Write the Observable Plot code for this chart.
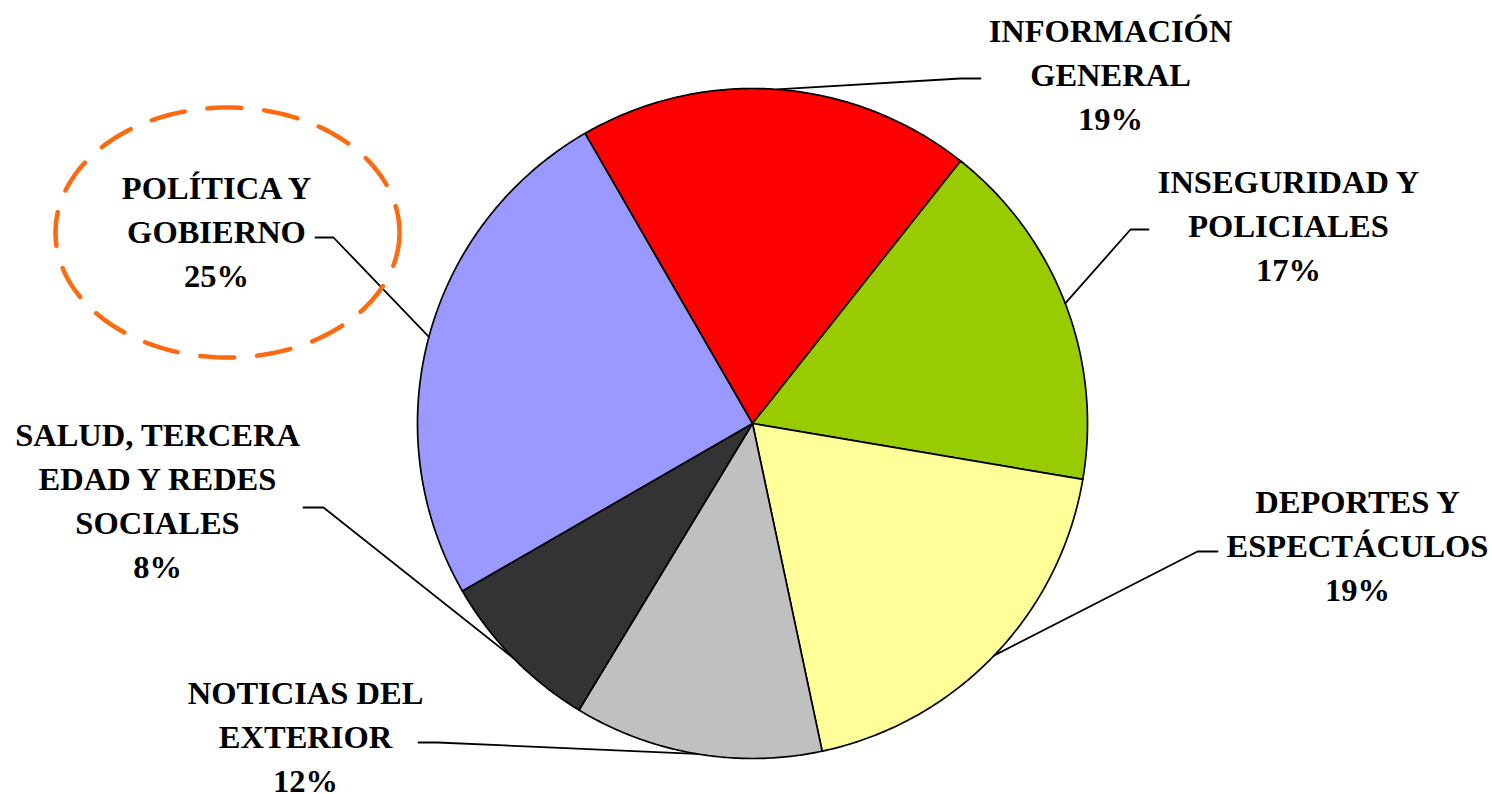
<!DOCTYPE html>
<html>
<head>
<meta charset="utf-8">
<script src="https://cdn.jsdelivr.net/npm/d3@7"></script>
<script src="https://cdn.jsdelivr.net/npm/@observablehq/plot@0.6"></script>
<style>
  html, body { margin: 0; padding: 0; background: #fff; }
  #chart svg { display: block; }
</style>
</head>
<body>
<div id="chart"></div>
<script>
// ---- data ----
const categories = [
  "INFORMACIÓN GENERAL",
  "INSEGURIDAD Y POLICIALES",
  "DEPORTES Y ESPECTÁCULOS",
  "NOTICIAS DEL EXTERIOR",
  "SALUD, TERCERA EDAD Y REDES SOCIALES",
  "POLÍTICA Y GOBIERNO"
];
const values = [19, 17, 19, 12, 8, 25];
const labelLines = [
  ["INFORMACIÓN", "GENERAL"],
  ["INSEGURIDAD Y", "POLICIALES"],
  ["DEPORTES Y", "ESPECTÁCULOS"],
  ["NOTICIAS DEL", "EXTERIOR"],
  ["SALUD, TERCERA", "EDAD Y REDES", "SOCIALES"],
  ["POLÍTICA Y", "GOBIERNO"]
];
const sliceColors = ["#FF0000", "#99CC00", "#FFFF99", "#C0C0C0", "#333333", "#9999FF"];

// ---- layout ----
const W = 1492, H = 794;
const cx = 752, cy = 423, R = 335, startAngle = -30; // degrees, clockwise from north
const lineStep = 44;
const labelPos = [[1110, 41], [1288, 192], [1357, 512], [305, 703], [157, 445], [216, 198]];
const leaderElbows = [
  [[960, 78], [980, 78]],
  [[1130, 229], [1148, 229]],
  [[1197, 551], [1217, 551]],
  [[437, 742], [418, 742]],
  [[323, 507], [303, 507]],
  [[333, 237], [315, 237]]
];
const highlight = {cx: 227, cy: 232, rx: 172, ry: 125};

const pt = (deg, r) => {
  const a = deg * Math.PI / 180;
  return [cx + r * Math.sin(a), cy - r * Math.cos(a)];
};

const total = d3.sum(values);
let acc = startAngle;
const slices = values.map((v, i) => {
  const a0 = acc, a1 = acc + v / total * 360;
  acc = a1;
  return {key: categories[i], value: v, a0, a1, mid: (a0 + a1) / 2, i};
});

const slicePts = [];
for (const s of slices) {
  slicePts.push({key: s.key, x: cx, y: cy});
  const n = Math.max(2, Math.ceil((s.a1 - s.a0) * 2));
  for (let k = 0; k <= n; k++) {
    const [x, y] = pt(s.a0 + (s.a1 - s.a0) * k / n, R);
    slicePts.push({key: s.key, x, y});
  }
  slicePts.push({key: s.key, x: cx, y: cy});
}

const leaderPts = [];
for (const s of slices) {
  const [x, y] = pt(s.mid, R);
  leaderPts.push({key: s.key, x, y});
  for (const [ex, ey] of leaderElbows[s.i]) leaderPts.push({key: s.key, x: ex, y: ey});
}

const textRows = [];
slices.forEach(s => {
  const lines = [...labelLines[s.i], `${s.value}%`];
  const [lx, ly] = labelPos[s.i];
  lines.forEach((t, j) => textRows.push({x: lx, y: ly + j * lineStep, text: t}));
});

const ellipsePts = d3.range(0, 360, 2).map(d => {
  const a = d * Math.PI / 180;
  return {x: highlight.cx + highlight.rx * Math.cos(a), y: highlight.cy + highlight.ry * Math.sin(a)};
});

const chart = Plot.plot({
  width: W,
  height: H,
  margin: 0,
  x: {domain: [0, W], range: [0, W], axis: null},
  y: {domain: [0, H], range: [0, H], axis: null},
  color: {type: "ordinal", domain: categories, range: sliceColors},
  style: {background: "#fff"},
  marks: [
    Plot.line(slicePts, {x: "x", y: "y", z: "key", fill: "key", stroke: "#000", strokeWidth: 1.7, strokeLinejoin: "round", curve: "linear"}),
    Plot.line(leaderPts, {x: "x", y: "y", z: "key", stroke: "#000", strokeWidth: 1.8, curve: "linear"}),
    Plot.line(ellipsePts, {x: "x", y: "y", curve: "linear-closed", stroke: "#FF6A10", strokeWidth: 4.5, strokeDasharray: "34,23"}),
    Plot.text(textRows, {x: "x", y: "y", text: "text", lineAnchor: "bottom", fontSize: 32.5, fontWeight: "bold", fontFamily: "'Liberation Serif', 'Times New Roman', serif", fill: "#000", textAnchor: "middle"})
  ]
});
document.getElementById("chart").appendChild(chart);
</script>
</body>
</html>
